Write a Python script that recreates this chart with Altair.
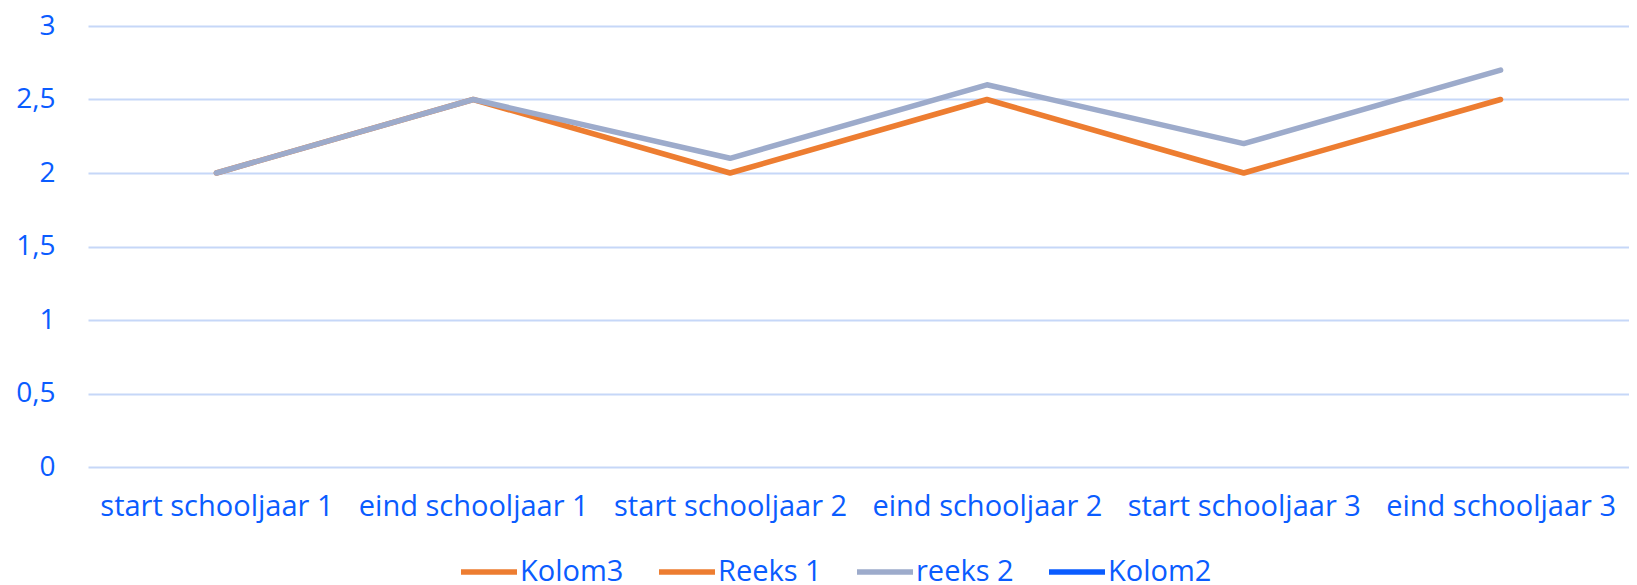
import altair as alt
import pandas as pd

categories = ["start schooljaar 1", "eind schooljaar 1", "start schooljaar 2",
              "eind schooljaar 2", "start schooljaar 3", "eind schooljaar 3"]
series_names = ["Kolom3", "Reeks 1", "reeks 2", "Kolom2"]
kolom3 = [None, None, None, None, None, None]
reeks1 = [2.0, 2.5, 2.0, 2.5, 2.0, 2.5]
reeks2 = [2.0, 2.5, 2.1, 2.6, 2.2, 2.7]
kolom2 = [None, None, None, None, None, None]
colors = ["#ED7D31", "#ED7D31", "#9DABCB", "#0A5CFF"]
y_ticks = [0, 0.5, 1, 1.5, 2, 2.5, 3]

rows = []
for name, vals in zip(series_names, [kolom3, reeks1, reeks2, kolom2]):
    for i, (c, v) in enumerate(zip(categories, vals)):
        rows.append({"cat": c, "series": name, "value": v, "order": i})
df = pd.DataFrame(rows)

TEXT = "#0A5CFF"
FONT = "Open Sans"

chart = alt.Chart(df).mark_line(strokeWidth=5.5, strokeCap="round", strokeJoin="round").encode(
    x=alt.X("cat:N", sort=categories, title=None,
            scale=alt.Scale(padding=0.5),
            axis=alt.Axis(labelAngle=0, labelFontSize=29, labelColor=TEXT, labelFont=FONT,
                          domain=False, ticks=False, grid=False, labelPadding=25,
                          labelOverlap=False, labelLimit=0)),
    y=alt.Y("value:Q", title=None,
            scale=alt.Scale(domain=[0, 3], nice=False),
            axis=alt.Axis(values=y_ticks, labelFontSize=28, labelColor=TEXT, labelFont=FONT,
                          labelExpr="replace(toString(datum.value), '.', ',')",
                          domain=False, ticks=False, grid=True, gridColor="#C6D7F8",
                          gridWidth=1.8, labelPadding=33)),
    color=alt.Color("series:N", sort=series_names,
                    scale=alt.Scale(domain=series_names, range=colors),
                    legend=alt.Legend(title=None, orient="none", direction="horizontal",
                                      legendX=370, legendY=515,
                                      symbolType="stroke", symbolSize=3136,
                                      symbolStrokeWidth=5.5, labelOffset=0,
                                      columnPadding=24, labelFontSize=29,
                                      labelColor=TEXT, labelFont=FONT,
                                      labelLimit=0)),
    order=alt.Order("order:Q"),
).properties(
    width=1541, height=441,
    padding={"left": 80, "top": 18, "right": 0, "bottom": 118},
    autosize=alt.AutoSizeParams(type="none"),
).configure_view(stroke=None)

chart.save("out.html", embed_options={"renderer": "svg", "actions": False})
